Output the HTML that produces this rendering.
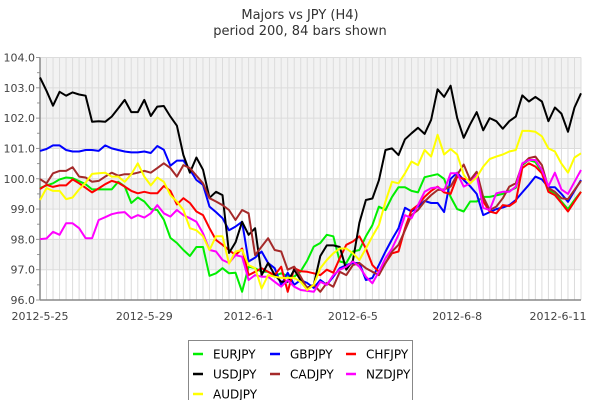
<!DOCTYPE html>
<html><head><meta charset="utf-8">
<style>
html,body{margin:0;padding:0;background:#fff;}
body{width:600px;height:400px;overflow:hidden;font-family:"Liberation Sans","DejaVu Sans",sans-serif;}
svg text{font-family:"DejaVu Sans","Liberation Sans",sans-serif;}
</style></head>
<body>
<svg id="chart" width="600" height="400" viewBox="0 0 600 400" xmlns="http://www.w3.org/2000/svg">
<text x="300" y="19" text-anchor="middle" font-size="13" fill="#333">Majors vs JPY (H4)</text>
<text x="300" y="35" text-anchor="middle" font-size="13" fill="#333">period 200, 84 bars shown</text>
<g id="plot"></g>
<g id="legend"></g>
</svg>
<script>
const xLabels = ["2012-5-25","2012-5-29","2012-6-1","2012-6-5","2012-6-8","2012-6-11"];
const xLabelIdx = [0,16,32,48,64,80];
const yTicks = [96,97,98,99,100,101,102,103,104];
const seriesNames = ["EURJPY","GBPJPY","CHFJPY","USDJPY","CADJPY","NZDJPY","AUDJPY"];
const seriesColors = ["#00ee00","#0000ff","#ff0000","#000000","#a52a2a","#ff00ff","#ffff00"];
const eurjpy = [99.69,99.78,99.85,99.98,100.04,100.02,99.92,99.82,99.65,99.65,99.65,99.65,99.9,99.75,99.2,99.38,99.25,99.0,98.97,98.65,98.05,97.88,97.65,97.45,97.75,97.75,96.8,96.88,97.05,96.88,96.9,96.27,97.1,97.05,96.93,96.93,96.8,96.88,96.8,96.77,96.95,97.3,97.76,97.88,98.15,98.1,97.27,97.22,97.6,97.65,98.1,98.47,99.08,98.97,99.4,99.72,99.72,99.6,99.55,100.05,100.1,100.15,100.0,99.4,99.0,98.92,99.25,99.25,99.4,99.4,99.45,99.5,99.6,99.7,100.45,100.62,100.55,100.23,99.63,99.5,99.25,99.0,99.3,99.57];
const gbpjpy = [100.92,100.98,101.1,101.1,100.95,100.9,100.9,100.95,100.95,100.92,101.1,101.0,100.95,100.9,100.87,100.87,100.9,100.85,101.08,100.96,100.43,100.6,100.6,100.3,99.96,99.8,99.08,98.9,98.7,98.3,98.42,98.58,97.27,97.4,97.6,97.22,97.05,96.5,96.9,96.5,96.66,96.56,96.4,96.66,96.5,96.77,97.05,97.15,97.22,97.22,96.66,96.73,97.15,97.6,98.0,98.37,99.04,98.92,99.08,99.27,99.2,99.2,98.9,100.0,100.2,99.96,99.75,99.5,98.8,98.9,99.0,99.05,99.13,99.3,99.55,99.8,100.07,99.98,99.72,99.72,99.5,99.24,99.6,99.96];
const chfjpy = [99.66,99.8,99.73,99.78,99.78,99.98,99.85,99.7,99.55,99.68,99.82,99.93,99.87,99.74,99.6,99.52,99.57,99.52,99.52,99.76,99.6,99.15,99.36,99.2,98.92,98.8,98.37,97.98,97.82,97.65,97.48,97.7,96.82,96.93,97.05,96.93,96.82,97.1,96.27,97.05,96.95,96.93,96.88,96.82,97.0,96.9,97.38,97.82,97.93,98.1,97.7,97.15,96.93,97.22,97.54,97.6,98.37,98.97,99.13,99.4,99.6,99.74,99.55,99.5,100.07,100.0,99.96,100.18,99.25,98.92,98.86,99.13,99.1,99.25,100.35,100.51,100.4,100.18,99.57,99.46,99.2,98.92,99.25,99.57];
const usdjpy = [103.34,102.9,102.41,102.87,102.74,102.85,102.78,102.74,101.88,101.9,101.88,102.05,102.32,102.6,102.2,102.2,102.6,102.07,102.38,102.4,102.05,101.75,100.78,100.2,100.7,100.3,99.37,99.57,99.46,97.55,97.9,98.58,98.15,98.37,96.82,97.22,96.82,96.6,96.6,97.0,96.65,96.4,96.5,97.45,97.8,97.8,97.75,97.0,97.3,98.55,99.3,99.35,99.95,100.95,101.0,100.78,101.3,101.5,101.68,101.48,101.94,102.95,102.7,103.07,102.0,101.35,101.8,102.2,101.6,102.0,101.9,101.65,101.9,102.05,102.75,102.55,102.7,102.55,101.9,102.35,102.15,101.55,102.35,102.82];
const cadjpy = [99.99,99.85,100.18,100.26,100.26,100.38,100.07,100.04,99.9,99.93,100.07,100.2,100.1,100.15,100.15,100.2,100.26,100.2,100.35,100.51,100.35,100.07,100.45,100.35,100.1,99.85,99.36,99.25,99.13,98.97,98.64,98.97,98.86,97.48,97.76,98.04,97.65,97.6,97.0,97.1,96.77,96.38,96.5,96.27,96.56,96.44,96.93,96.82,97.15,97.22,97.05,96.93,96.82,97.22,97.6,97.82,98.3,98.8,98.97,99.25,99.46,99.63,99.65,99.74,100.13,100.47,99.96,100.23,99.4,98.97,99.08,99.36,99.74,99.85,100.47,100.68,100.73,100.45,99.69,99.57,99.36,99.33,99.63,99.93];
const nzdjpy = [98.01,98.03,98.25,98.15,98.53,98.53,98.37,98.04,98.04,98.64,98.73,98.83,98.88,98.9,98.7,98.8,98.72,98.86,99.13,98.86,98.75,98.97,98.8,98.7,98.58,98.2,97.65,97.6,97.32,97.22,97.48,97.43,96.66,96.82,96.77,96.77,96.6,96.44,96.66,96.44,96.33,96.3,96.27,96.6,96.5,96.82,97.0,97.1,97.27,97.1,96.77,96.55,96.93,97.38,97.7,98.15,98.8,98.7,99.13,99.57,99.69,99.72,99.6,100.18,100.18,99.74,99.85,100.13,99.04,98.97,99.52,99.57,99.57,99.74,100.51,100.62,100.62,100.29,99.75,100.2,99.65,99.5,99.9,100.29];
const audjpy = [99.3,99.69,99.6,99.6,99.33,99.38,99.65,99.87,100.16,100.18,100.2,100.07,100.07,99.9,100.15,100.51,100.07,99.78,100.04,99.9,99.46,99.25,98.97,98.37,98.3,98.1,97.65,98.1,98.1,97.2,97.6,97.65,97.15,97.05,96.38,96.82,96.77,96.73,96.73,96.73,96.6,96.33,96.5,97.05,97.32,97.54,97.7,97.7,97.54,97.32,97.7,98.1,98.47,99.25,99.9,99.85,100.18,100.57,100.45,100.95,100.73,101.45,100.8,100.98,100.8,100.13,99.85,100.05,100.4,100.65,100.73,100.8,100.9,100.95,101.58,101.58,101.55,101.4,101.0,100.9,100.5,100.2,100.7,100.84];
const seriesData = [eurjpy,gbpjpy,chfjpy,usdjpy,cadjpy,nzdjpy,audjpy];
// drawing order (legend order differs): back to front
const drawOrder = [0,1,2,3,4,5,6];

const NS = "http://www.w3.org/2000/svg";
const X0 = 40, X1 = 581, YTOP = 57.5, YBOT = 300;
const yMin = 96, yMax = 104;
const nBars = usdjpy.length;
function xPos(i){ return X0 + (X1 - X0) * i / (nBars - 1); }
function yPos(v){ return YBOT - (v - yMin) / (yMax - yMin) * (YBOT - YTOP); }
function mk(tag, attrs, parent){
  const el = document.createElementNS(NS, tag);
  for (const k in attrs) el.setAttribute(k, attrs[k]);
  parent.appendChild(el);
  return el;
}
const plot = document.getElementById('plot');
// bands
for (let k = 0; k < yTicks.length - 1; k++) {
  const lo = yTicks[k], hi = yTicks[k+1];
  const grey = (lo >= 101) || lo === 99 || lo === 97;
  if (!grey) continue;
  const r = mk('rect', {x:X0, y:yPos(hi), width:X1-X0, height:yPos(lo)-yPos(hi), fill:'#f2f2f2'}, plot);
  
  
}
// vertical grid
for (let i = 1; i < nBars; i++) {
  const l = mk('line', {x1:xPos(i), x2:xPos(i), y1:YTOP, y2:YBOT, stroke:'#dcdcdc', 'stroke-width':1}, plot);
  
  
}
// horizontal grid + labels
yTicks.forEach(v => {
  const l = mk('line', {x1:X0, x2:X1, y1:yPos(v), y2:yPos(v), stroke:'#dcdcdc', 'stroke-width':1}, plot);
  
  
  const t = mk('text', {x:35, y:yPos(v)+4, 'text-anchor':'end', 'font-size':11, fill:'#444'}, plot);
  t.textContent = v.toFixed(1);
  
  
  const tk = mk('line', {x1:36, x2:X0, y1:yPos(v), y2:yPos(v), stroke:'#999', 'stroke-width':1}, plot);
  
  
});
for (let v = yMin + 0.5; v < yMax; v += 1) {
  const tk = mk('line', {x1:37, x2:X0, y1:yPos(v), y2:yPos(v), stroke:'#999', 'stroke-width':1}, plot);
  
  
}
// axes
const ax = mk('line', {x1:X0, x2:X0, y1:YTOP, y2:YBOT, stroke:'#888', 'stroke-width':1.5}, plot);


const bx = mk('line', {x1:X0, x2:X1, y1:YBOT, y2:YBOT, stroke:'#888', 'stroke-width':1.5}, plot);


// x labels
xLabels.forEach((s, k) => {
  const t = mk('text', {x:xPos(xLabelIdx[k]), y:320, 'text-anchor':'middle', 'font-size':11, fill:'#444'}, plot);
  let xx = xPos(xLabelIdx[k]);
  if (xx + 28 > 586) t.setAttribute('x', 586 - 28);
  t.textContent = s;
  
  
});
// series
drawOrder.forEach(si => {
  const d = seriesData[si].map((v, i) => (i ? 'L' : 'M') + xPos(i).toFixed(1) + ',' + yPos(v).toFixed(1)).join(' ');
  const p = mk('path', {d:d, fill:'none', stroke:seriesColors[si], 'stroke-width':2, 'stroke-linejoin':'round'}, plot);
  
  
});
// legend
const lg = document.getElementById('legend');
const box = mk('rect', {x:188.5, y:340.5, width:224, height:70, fill:'#fff', stroke:'#888', 'stroke-width':1}, lg);


const colX = [193, 270, 346];
seriesNames.forEach((n, k) => {
  const row = Math.floor(k / 3), col = k % 3;
  const y = 354 + row * 20;
  const g = mk('g', {}, lg);
  
  
  mk('line', {x1:colX[col], x2:colX[col]+10, y1:y, y2:y, stroke:seriesColors[k], 'stroke-width':2.5}, g);
  const t = mk('text', {x:colX[col]+20, y:y+4.5, 'font-size':12, fill:'#000'}, g);
  t.textContent = n;
});
</script>
</body></html>
